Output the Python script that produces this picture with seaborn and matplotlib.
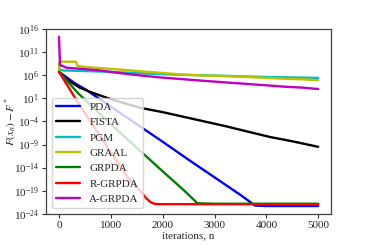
import numpy as np
import pandas as pd
import matplotlib
matplotlib.use("Agg")
import matplotlib.pyplot as plt
import seaborn as sns

# values, stored as log10(F(x_n) - F*)
pda_n = [0, 300, 500, 1000, 1500, 2000, 2500, 3000, 3500, 3780, 4000, 4500, 5000]
pda_log = [6.7, 4.3, 3.0, -0.8, -4.6, -8.4, -12.3, -16.1, -19.9, -22.2, -22.3, -22.3, -22.3]

fista_n = [0, 100, 200, 400, 600, 770, 1000, 1300, 1580, 1770, 2000, 2400, 2800,
           3200, 3600, 4080, 4500, 5000]
fista_log = [6.7, 5.6, 4.7, 3.3, 2.4, 1.7, 0.8, -0.2, -1.1, -1.5, -2.0, -3.0, -4.0,
             -5.0, -6.1, -7.4, -8.3, -9.5]

pgm_n = [0, 10, 100, 500, 1000, 2000, 3000, 4000, 5000]
pgm_log = [8.5, 7.2, 7.0, 6.9, 6.7, 6.2, 5.9, 5.6, 5.4]

graal_n = [0, 10, 330, 360, 480, 700, 940, 1300, 1600, 1960, 2420, 2800, 3200,
           3600, 4020, 4400, 4700, 5000]
graal_log = [6.8, 8.9, 8.9, 8.0, 7.8, 7.6, 7.4, 7.1, 6.8, 6.5, 6.1, 5.9, 5.8,
             5.6, 5.4, 5.2, 5.1, 4.9]

grpda_n = [0, 360, 1000, 1500, 2000, 2400, 2670, 3000, 4000, 5000]
grpda_log = [6.7, 2.2, -4.6, -9.7, -14.8, -18.8, -21.7, -21.8, -21.8, -21.8]

rgrpda_n = [0, 360, 800, 1330, 1580, 1680, 1770, 1850, 2000, 3000, 4000, 5000]
rgrpda_log = [6.7, 0.2, -7.3, -16.2, -19.2, -20.6, -21.5, -21.85, -21.9, -21.9, -21.9, -21.9]

agrpda_n = [0, 20, 150, 500, 800, 1200, 1600, 1960, 2420, 3000, 3500, 4000, 4350, 4700, 5000]
agrpda_log = [14.3, 8.2, 7.6, 7.3, 7.0, 6.4, 5.9, 5.5, 5.1, 4.6, 4.2, 3.8, 3.5, 3.3, 3.0]

series = [
    ("PDA", pda_n, pda_log, "b"),
    ("FISTA", fista_n, fista_log, "k"),
    ("PGM", pgm_n, pgm_log, "c"),
    ("GRAAL", graal_n, graal_log, "y"),
    ("GRPDA", grpda_n, grpda_log, "g"),
    ("R-GRPDA", rgrpda_n, rgrpda_log, "r"),
    ("A-GRPDA", agrpda_n, agrpda_log, "m"),
]

sns.set_style("ticks")
plt.rcParams["font.family"] = ["Liberation Serif", "DejaVu Serif"]
plt.rcParams["mathtext.fontset"] = "stix"

fig, ax = plt.subplots(figsize=(3.68, 2.45), dpi=100)
fig.subplots_adjust(left=0.125, right=0.9, bottom=0.127, top=0.882)

for name, n, lg, col in series:
    df = pd.DataFrame({"n": n, "gap": 10.0 ** np.array(lg)})
    sns.lineplot(data=df, x="n", y="gap", color=col, lw=1.7, label=name, ax=ax)

ax.set_yscale("log")
ax.set_ylim(1e-24, 1e16)
ax.set_xlim(-250, 5250)
ax.set_yticks(10.0 ** np.arange(-24, 17, 5))
ax.minorticks_off()
ax.set_xticks([0, 1000, 2000, 3000, 4000, 5000])
ax.tick_params(labelsize=8, length=3, width=0.8, color="0.2", pad=2)
for sp in ax.spines.values():
    sp.set_color("0.25")
    sp.set_linewidth(0.9)

ax.set_xlabel("iterations, n", fontsize=8, labelpad=1)
ax.set_ylabel("$F(x_n) - F^*$", fontsize=8)
ax.yaxis.set_label_coords(-0.095, 0.5)
ax.legend(loc="lower left", fontsize=8, framealpha=0.8, handlelength=2.2)

fig.savefig("out.png", dpi=100)
